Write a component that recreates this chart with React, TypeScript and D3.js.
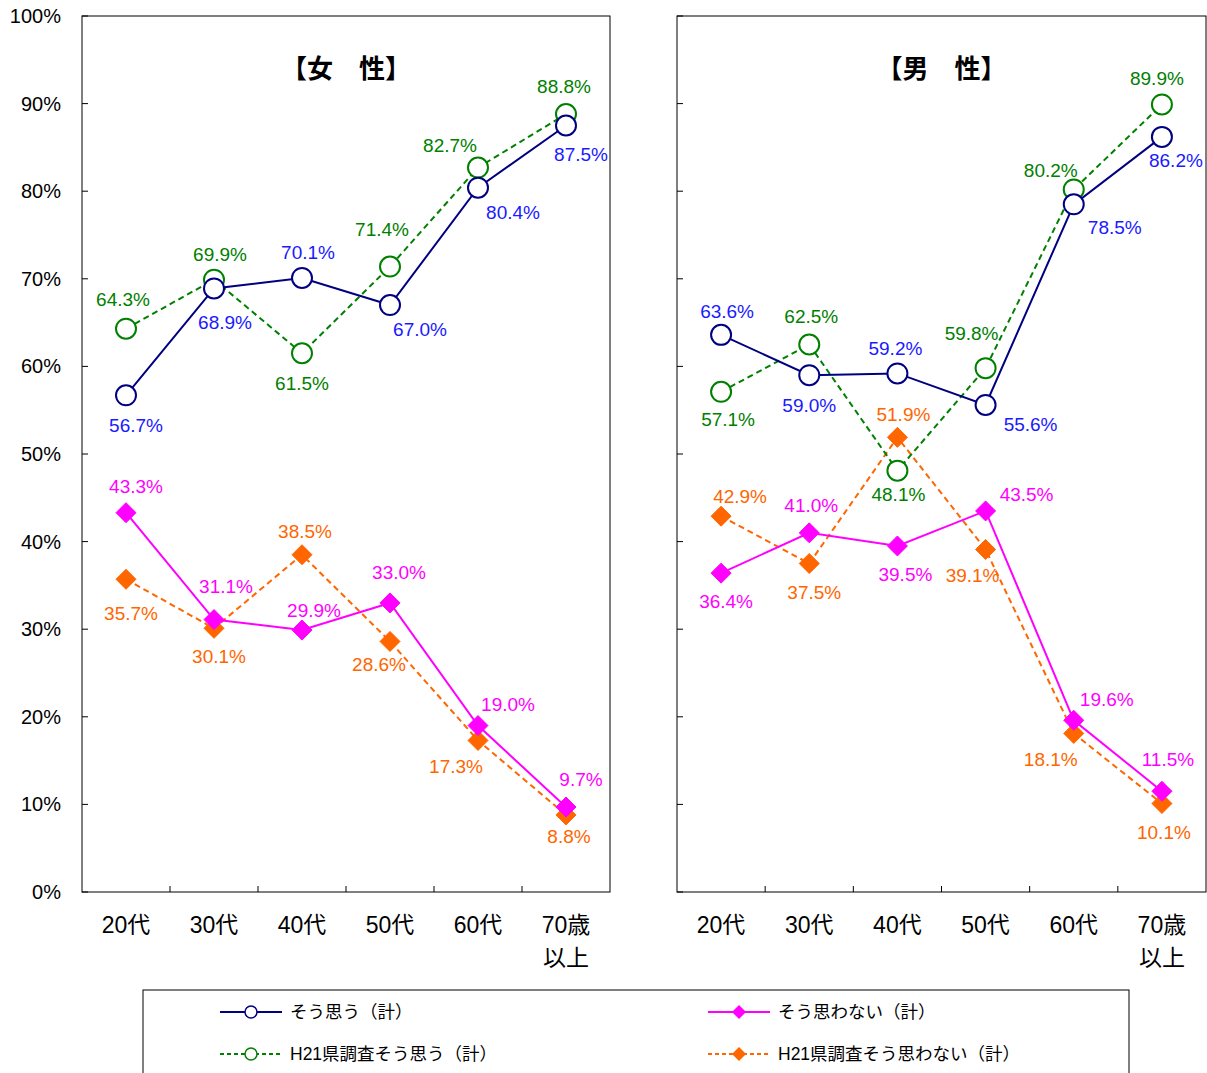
import React from "react";
import * as d3 from "d3";

const categories = ["20代", "30代", "40代", "50代", "60代", "70歳\n以上"];
const yTicks = [0, 10, 20, 30, 40, 50, 60, 70, 80, 90, 100];

const femaleSou = [56.7, 68.9, 70.1, 67.0, 80.4, 87.5];
const femaleH21Sou = [64.3, 69.9, 61.5, 71.4, 82.7, 88.8];
const femaleNot = [43.3, 31.1, 29.9, 33.0, 19.0, 9.7];
const femaleH21Not = [35.7, 30.1, 38.5, 28.6, 17.3, 8.8];

const maleSou = [63.6, 59.0, 59.2, 55.6, 78.5, 86.2];
const maleH21Sou = [57.1, 62.5, 48.1, 59.8, 80.2, 89.9];
const maleNot = [36.4, 41.0, 39.5, 43.5, 19.6, 11.5];
const maleH21Not = [42.9, 37.5, 51.9, 39.1, 18.1, 10.1];

const seriesNames = ["そう思う（計）", "そう思わない（計）", "H21県調査そう思う（計）", "H21県調査そう思わない（計）"];

// label offsets (layout only) [dx, dy] per point
const femaleOff = {
  sou: [[10, 30], [11, 34], [6, -25], [30, 24], [35, 25], [15, 29]],
  h21sou: [[-3, -29], [6, -25], [0, 30], [-8, -37], [-28, -22], [-2, -28]],
  not: [[10, -26], [12, -33], [12, -20], [9, -30], [30, -21], [15, -28]],
  h21not: [[5, 34], [5, 28], [3, -23], [-11, 23], [-22, 26], [3, 22]],
};
const maleOff = {
  sou: [[6, -23], [0, 30], [-2, -25], [45, 20], [41, 23], [14, 24]],
  h21sou: [[7, 28], [2, -28], [1, 24], [-14, -35], [-23, -19], [-5, -26]],
  not: [[5, 28], [2, -27], [8, 29], [41, -16], [33, -21], [6, -32]],
  h21not: [[19, -20], [5, 29], [6, -23], [-13, 26], [-23, 26], [2, 29]],
};

const NAVY = "#000080";
const BLUE = "#1a1aff";
const GREEN = "#008000";
const MAG = "#ff00ff";
const ORANGE = "#ff6600";
const FONT = "'Liberation Sans', 'Noto Sans CJK JP', sans-serif";
const JFONT = "'Noto Sans CJK JP', sans-serif";

const Y0 = 892, Y1 = 16;
const y = d3.scaleLinear().domain([0, 100]).range([Y0, Y1]);

function Circle({ cx, cy, color }) {
  return <circle cx={cx} cy={cy} r={10} fill="#fff" stroke={color} strokeWidth={2} />;
}
function Diamond({ cx, cy, color }) {
  const s = 10;
  return <path d={`M${cx},${cy - s}L${cx + s},${cy}L${cx},${cy + s}L${cx - s},${cy}Z`} fill={color} stroke={color} strokeWidth={1} />;
}

function Panel({ x0, x1, title, sou, h21sou, not, h21not, off }) {
  const x = d3.scaleBand().domain(categories).range([x0, x1]);
  const cx = (i) => x(categories[i]) + x.bandwidth() / 2;
  const line = (vals) =>
    d3.line().x((_, i) => cx(i)).y((d) => y(d))(vals);
  const series = [
    { vals: h21not, color: ORANGE, dash: "6,4", mark: "d", lab: ORANGE, off: off.h21not },
    { vals: not, color: MAG, dash: null, mark: "d", lab: MAG, off: off.not },
    { vals: h21sou, color: GREEN, dash: "6,4", mark: "c", lab: GREEN, off: off.h21sou },
    { vals: sou, color: NAVY, dash: null, mark: "c", lab: BLUE, off: off.sou },
  ];
  return (
    <g>
      <rect x={x0} y={Y1} width={x1 - x0} height={Y0 - Y1} fill="#fff" stroke="#000" strokeWidth={1} />
      {yTicks.map((t) => (
        <line key={t} x1={x0} x2={x0 + 6} y1={y(t)} y2={y(t)} stroke="#000" />
      ))}
      {categories.slice(1).map((c) => (
        <line key={c} x1={x(c)} x2={x(c)} y1={Y0} y2={Y0 - 6} stroke="#000" />
      ))}
      {categories.map((c, i) => (
        <text key={c} x={cx(i)} y={933} textAnchor="middle" fontSize={23} fontFamily={FONT} fill="#000">
          {c.split("\n").map((p, k) => (
            <tspan key={k} x={cx(i)} dy={k === 0 ? 0 : 33}>{p}</tspan>
          ))}
        </text>
      ))}
      <text x={(x0 + x1) / 2} y={78} textAnchor="middle" fontSize={26} fontWeight="bold" fontFamily={JFONT} fill="#000">{title}</text>
      {series.map((s, si) => (
        <path key={si} d={line(s.vals)} fill="none" stroke={s.color} strokeWidth={2} strokeDasharray={s.dash || undefined} />
      ))}
      {series.map((s, si) =>
        s.vals.map((v, i) =>
          s.mark === "c" ? (
            <Circle key={si + "-" + i} cx={cx(i)} cy={y(v)} color={s.color} />
          ) : (
            <Diamond key={si + "-" + i} cx={cx(i)} cy={y(v)} color={s.color} />
          )
        )
      )}
      {series.map((s, si) =>
        s.vals.map((v, i) => (
          <text key={"l" + si + "-" + i} x={cx(i) + s.off[i][0]} y={y(v) + s.off[i][1]} textAnchor="middle" dominantBaseline="central" fontSize={19} fontFamily={FONT} fill={s.lab}>
            {v.toFixed(1) + "%"}
          </text>
        ))
      )}
    </g>
  );
}

function LegendItem({ x, yy, color, dash, mark, label }) {
  return (
    <g>
      <line x1={x} x2={x + 62} y1={yy} y2={yy} stroke={color} strokeWidth={2} strokeDasharray={dash || undefined} />
      {mark === "c" ? (
        <circle cx={x + 31} cy={yy} r={6} fill="#fff" stroke={color} strokeWidth={1.5} />
      ) : (
        <path d={`M${x + 31},${yy - 7}L${x + 38},${yy}L${x + 31},${yy + 7}L${x + 24},${yy}Z`} fill={color} />
      )}
      <text x={x + 70} y={yy} dominantBaseline="central" fontSize={17.5} fontFamily={FONT} fill="#000">{label}</text>
    </g>
  );
}

export default function App() {
  return (
    <svg width={1207} height={1073} style={{ position: "absolute", left: 0, top: 0, background: "#fff" }}>
      <rect x={0} y={0} width={1207} height={1073} fill="#fff" />
      {yTicks.map((t) => (
        <text key={t} x={61} y={y(t)} textAnchor="end" dominantBaseline="central" fontSize={20} fontFamily={FONT} fill="#000">{t + "%"}</text>
      ))}
      <Panel x0={82} x1={610} title="【女　性】" sou={femaleSou} h21sou={femaleH21Sou} not={femaleNot} h21not={femaleH21Not} off={femaleOff} />
      <Panel x0={677} x1={1206} title="【男　性】" sou={maleSou} h21sou={maleH21Sou} not={maleNot} h21not={maleH21Not} off={maleOff} />
      <rect x={143} y={990} width={986} height={100} fill="#fff" stroke="#000" strokeWidth={1} />
      <LegendItem x={220} yy={1012} color={NAVY} mark="c" label={seriesNames[0]} />
      <LegendItem x={708} yy={1012} color={MAG} mark="d" label={seriesNames[1]} />
      <LegendItem x={220} yy={1054} color={GREEN} dash="4,3" mark="c" label={seriesNames[2]} />
      <LegendItem x={708} yy={1054} color={ORANGE} dash="4,3" mark="d" label={seriesNames[3]} />
    </svg>
  );
}
